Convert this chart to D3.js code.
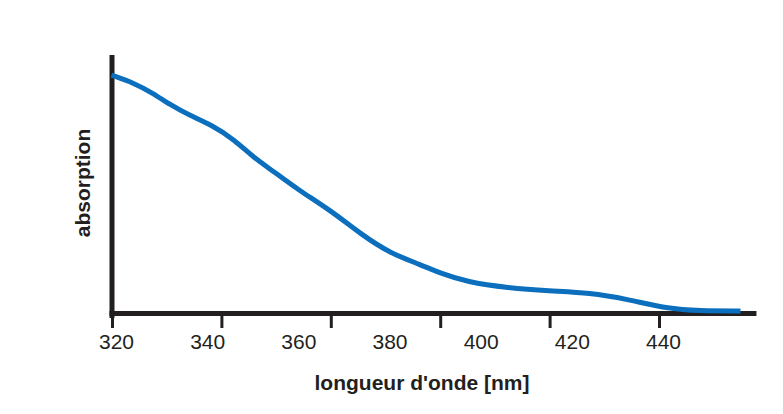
<!DOCTYPE html>
<html>
<head>
<meta charset="utf-8">
<script src="https://cdn.jsdelivr.net/npm/d3@7"></script>
<style>
  body { margin: 0; background: #fff; }
  text { font-family: "Liberation Sans", Arial, Helvetica, sans-serif; fill: #231f20; }
</style>
</head>
<body>
<div id="chart"></div>
<script>
// wavelength (nm) and relative absorption
const wavelengths = [319, 324, 328, 332, 336, 341, 346, 350, 355, 360, 367, 374, 380, 387, 391, 397, 406, 415, 424, 432, 441, 448, 457];
const absorption = [0.922, 0.891, 0.853, 0.806, 0.767, 0.729, 0.671, 0.605, 0.543, 0.477, 0.399, 0.302, 0.233, 0.186, 0.155, 0.120, 0.097, 0.085, 0.078, 0.054, 0.016, 0.008, 0.008];
const tickLabels = [320, 340, 360, 380, 400, 420, 440];
const tickMarks = [320, 340, 360, 380, 400, 420]; // tick marks in the original sit apart from the labels

const w = 783;
const h = 414;
const ink = "#231f20";

const svg = d3.select("#chart")
    .append("svg")
    .attr("width", w)
    .attr("height", h);

const x = d3.scaleLinear().domain([320, 440]).range([116, 663]);
const xTicks = d3.scaleLinear().domain([320, 420]).range([112, 659]);
const y = d3.scaleLinear().domain([0, 1]).range([313, 55]);

// tick labels
svg.append("g")
    .attr("transform", "translate(0," + 334 + ")")
    .call(d3.axisBottom(x).tickValues(tickLabels).tickSize(0).tickPadding(0))
    .call(g => g.select(".domain").remove())
    .selectAll("text")
    .attr("font-size", 21)
    .attr("dy", "0.71em")
    .attr("fill", ink);

// tick marks
svg.append("g")
    .attr("transform", "translate(0," + 313 + ")")
    .call(d3.axisBottom(xTicks).tickValues(tickMarks).tickSize(15).tickFormat(""))
    .call(g => g.select(".domain").remove())
    .selectAll("line")
    .attr("stroke", ink)
    .attr("stroke-width", 3);

// x axis line
svg.append("line")
    .attr("x1", xTicks(320) - 2.5).attr("x2", x(460.5))
    .attr("y1", y(0) + 0.5).attr("y2", y(0) + 0.5)
    .attr("stroke", ink)
    .attr("stroke-width", 5);

// y axis line
svg.append("line")
    .attr("x1", xTicks(320)).attr("x2", xTicks(320))
    .attr("y1", y(1)).attr("y2", y(0) + 5)
    .attr("stroke", ink)
    .attr("stroke-width", 5);

// spectrum
const line = d3.line()
    .x((d, i) => x(wavelengths[i]))
    .y(d => y(d))
    .curve(d3.curveBasis);

svg.append("path")
    .datum(absorption)
    .attr("d", line)
    .attr("fill", "none")
    .attr("stroke", "#0b6fbd")
    .attr("stroke-width", 5)
    .attr("stroke-linecap", "butt");

// axis titles
svg.append("text")
    .attr("x", 422)
    .attr("y", 390)
    .attr("text-anchor", "middle")
    .attr("font-size", 21)
    .attr("font-weight", "bold")
    .text("longueur d'onde [nm]");

svg.append("text")
    .attr("transform", "translate(90,183) rotate(-90)")
    .attr("text-anchor", "middle")
    .attr("font-size", 21)
    .attr("font-weight", "bold")
    .text("absorption");
</script>
</body>
</html>
